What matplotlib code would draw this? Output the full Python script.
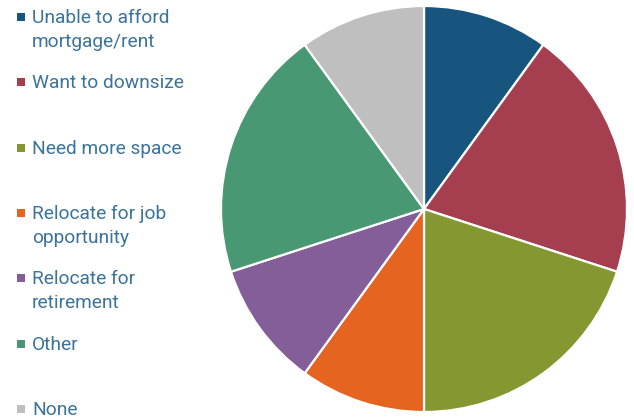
import matplotlib
matplotlib.use("Agg")
import matplotlib.pyplot as plt

labels = [
    "Unable to afford\nmortgage/rent",
    "Want to downsize",
    "Need more space",
    "Relocate for job\nopportunity",
    "Relocate for\nretirement",
    "Other",
    "None",
]
shares = [10, 20, 20, 10, 10, 20, 10]
colors = ["#17557f", "#a53e4e", "#859731", "#e46420", "#835e98", "#489873", "#bfbfbf"]

W, H = 634, 417
fig = plt.figure(figsize=(W / 100, H / 100), dpi=100)
fig.patch.set_facecolor("white")

cx, cy, r = 424, 209, 203
ax = fig.add_axes([(cx - r) / W, (H - cy - r) / H, 2 * r / W, 2 * r / H])
ax.pie(shares, colors=colors, startangle=90, counterclock=False,
       wedgeprops=dict(edgecolor="white", linewidth=1.6))
ax.set_xlim(-1, 1)
ax.set_ylim(-1, 1)
ax.set_aspect("equal")
ax.axis("off")

text_color = "#3a739b"
y0, step = 17, 65.3
for i, (lab, col) in enumerate(zip(labels, colors)):
    y = y0 + i * step
    fig.patches.append(plt.Rectangle((17 / W, 1 - (y + 4) / H), 8 / W, 8 / H,
                                     transform=fig.transFigure, facecolor=col,
                                     edgecolor="none"))
    fig.text(32 / W, 1 - (y - 8) / H, lab, color=text_color, fontsize=13.8,
             family="Roboto", va="top", ha="left", linespacing=1.42)

fig.savefig("out.png", dpi=100)
